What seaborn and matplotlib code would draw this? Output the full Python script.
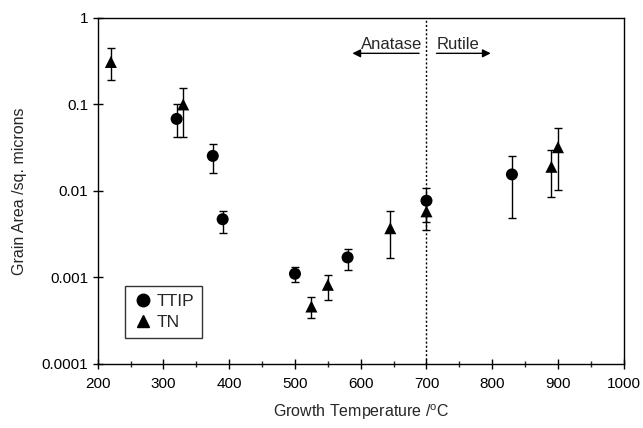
import numpy as np
import pandas as pd
import matplotlib
matplotlib.use("Agg")
import matplotlib.pyplot as plt
import seaborn as sns
from matplotlib.lines import Line2D

# dados
ttip_temp = [320, 375, 390, 500, 580, 700, 830]
ttip_area = [0.068, 0.0254, 0.0047, 0.0011, 0.0017, 0.0077, 0.0155]
ttip_lo = [0.042, 0.016, 0.0033, 0.00089, 0.0012, 0.0044, 0.0049]
ttip_hi = [0.10, 0.035, 0.0059, 0.0013, 0.0021, 0.0108, 0.0254]

tn_temp = [220, 330, 525, 550, 645, 700, 890, 900]
tn_area = [0.31, 0.10, 0.00046, 0.00082, 0.0037, 0.0058, 0.019, 0.032]
tn_lo = [0.19, 0.042, 0.00034, 0.00055, 0.00168, 0.0035, 0.0085, 0.0103]
tn_hi = [0.45, 0.155, 0.00059, 0.00107, 0.0059, 0.0085, 0.030, 0.053]

y_ticks = [0.0001, 0.001, 0.01, 0.1, 1]
y_tick_labels = ["0.0001", "0.001", "0.01", "0.1", "1"]
x_ticks = [200, 300, 400, 500, 600, 700, 800, 900, 1000]

df = pd.concat([
    pd.DataFrame({"temp": ttip_temp, "area": ttip_area, "lo": ttip_lo, "hi": ttip_hi, "serie": "TTIP"}),
    pd.DataFrame({"temp": tn_temp, "area": tn_area, "lo": tn_lo, "hi": tn_hi, "serie": "TN"}),
], ignore_index=True)

sns.set_style("ticks")
plt.rcParams["font.family"] = ["Liberation Sans", "DejaVu Sans"]
plt.rcParams["mathtext.fontset"] = "custom"
plt.rcParams["mathtext.rm"] = "Liberation Sans"

fig = plt.figure(figsize=(6.43, 4.28), dpi=100)
ax = fig.add_axes([0.152, 0.150, 0.818, 0.808])

# barras de erro
for _, r in df.iterrows():
    ax.errorbar(r["temp"], r["area"],
                yerr=[[r["area"] - r["lo"]], [r["hi"] - r["area"]]],
                fmt="none", ecolor="black", elinewidth=1.0,
                capsize=3, capthick=1.0, zorder=2)

sns.scatterplot(
    data=df, x="temp", y="area", style="serie",
    markers={"TTIP": "o", "TN": "^"}, color="black",
    s=75, edgecolor="black", linewidth=0, legend=False, ax=ax, zorder=3,
)

ax.set_yscale("log")
ax.set_xlim(200, 1000)
ax.set_ylim(0.0001, 1)
ax.set_yticks(y_ticks)
ax.set_yticklabels(y_tick_labels)
ax.yaxis.set_minor_locator(matplotlib.ticker.NullLocator())
ax.set_xticks(x_ticks)
ax.set_xticks(np.arange(250, 1000, 100), minor=True)
ax.tick_params(axis="both", which="major", direction="inout", length=7,
               width=1, labelsize=11, color="black", labelcolor="black")
ax.tick_params(axis="x", which="major", pad=6)
ax.tick_params(axis="x", which="minor", direction="inout", length=5, width=1)
for s in ax.spines.values():
    s.set_visible(True)
    s.set_color("black")
    s.set_linewidth(1.0)

ax.set_xlabel(r"Growth Temperature /$^{\rm o}$C", fontsize=11.5, labelpad=8)
ax.set_ylabel("Grain Area /sq. microns", fontsize=11.5, labelpad=10)

# linha de transicao e setas
ax.axvline(700, color="black", linestyle=(0, (1.5, 1.5)), linewidth=1.0, zorder=1)
ax.annotate("", xy=(583, 0.39), xytext=(693, 0.39),
            arrowprops=dict(arrowstyle="-|>", color="black", lw=1.0, mutation_scale=12))
ax.annotate("", xy=(802, 0.39), xytext=(711, 0.39),
            arrowprops=dict(arrowstyle="-|>", color="black", lw=1.0, mutation_scale=12))
ax.text(694, 0.5, "Anatase", ha="right", va="center", fontsize=12)
ax.text(716, 0.5, "Rutile", ha="left", va="center", fontsize=12)

handles = [
    Line2D([], [], marker="o", color="black", linestyle="none", markersize=9, label="TTIP"),
    Line2D([], [], marker="^", color="black", linestyle="none", markersize=9, label="TN"),
]
leg = ax.legend(handles=handles, loc="lower left", bbox_to_anchor=(0.051, 0.075),
                fontsize=12.5, frameon=True, fancybox=False, handletextpad=0.2,
                handlelength=1.2, borderpad=0.45, labelspacing=0.35, borderaxespad=0)
leg.get_frame().set_edgecolor("black")
leg.get_frame().set_linewidth(1.0)

fig.savefig("out.png", dpi=100)
